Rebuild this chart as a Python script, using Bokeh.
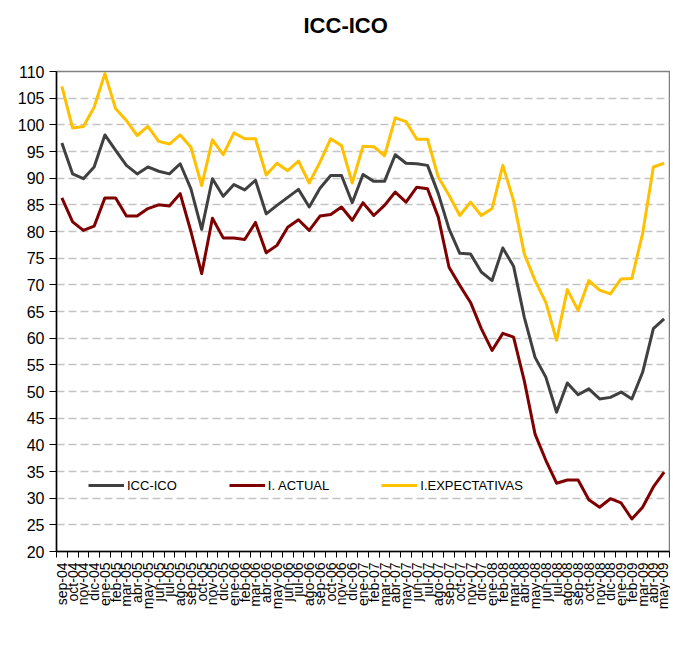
from math import pi
from bokeh.plotting import figure
from bokeh.models import FixedTicker, Range1d, Legend, LegendItem, ColumnDataSource, Title
from bokeh.embed import file_html
from bokeh.resources import INLINE

months = ["sep-04", "oct-04", "nov-04", "dic-04",
          "ene-05", "feb-05", "mar-05", "abr-05", "may-05", "jun-05", "jul-05", "ago-05", "sep-05", "oct-05", "nov-05", "dic-05",
          "ene-06", "feb-06", "mar-06", "abr-06", "may-06", "jun-06", "jul-06", "ago-06", "sep-06", "oct-06", "nov-06", "dic-06",
          "ene-07", "feb-07", "mar-07", "abr-07", "may-07", "jun-07", "jul-07", "ago-07", "sep-07", "oct-07", "nov-07", "dic-07",
          "ene-08", "feb-08", "mar-08", "abr-08", "may-08", "jun-08", "jul-08", "ago-08", "sep-08", "oct-08", "nov-08", "dic-08",
          "ene-09", "feb-09", "mar-09", "abr-09", "may-09"]

icc_ico = [96.6, 90.8, 89.9, 92.1, 98.1, 95.2, 92.4, 90.8, 92.1, 91.3, 90.8, 92.7, 88.0, 80.4, 89.9, 86.6,
           88.8, 87.8, 89.6, 83.3, 84.9, 86.4, 87.9, 84.6, 88.1, 90.5, 90.5, 85.4,
           90.7, 89.4, 89.4, 94.4, 92.8, 92.7, 92.4, 87.1, 80.5, 75.9, 75.8, 72.4,
           70.8, 76.9, 73.5, 63.9, 56.4, 52.7, 46.1, 51.6, 49.4, 50.5, 48.6, 48.9,
           49.9, 48.6, 53.6, 61.8, 63.6]

i_actual = [86.3, 81.8, 80.2, 81.0, 86.3, 86.3, 82.9, 82.9, 84.3, 85.0, 84.8, 87.1, 80.0, 72.1, 82.5, 78.8,
            78.8, 78.5, 81.7, 76.0, 77.4, 80.8, 82.2, 80.2, 82.9, 83.2, 84.6, 82.1,
            85.4, 83.0, 84.9, 87.4, 85.5, 88.3, 88.0, 82.7, 73.3, 69.9, 66.7, 61.8,
            57.7, 60.9, 60.2, 52.0, 42.0, 37.1, 32.8, 33.4, 33.4, 29.7, 28.3, 29.9,
            29.1, 26.1, 28.3, 32.1, 34.9]

i_expectativas = [107.2, 99.4, 99.7, 103.3, 109.6, 103.0, 100.8, 98.0, 99.7, 96.9, 96.4, 98.1, 95.8, 88.6, 97.2, 94.4,
                  98.5, 97.4, 97.4, 90.6, 92.8, 91.4, 93.2, 89.1, 93.0, 97.4, 96.1, 89.1,
                  96.0, 95.9, 94.2, 101.3, 100.6, 97.3, 97.3, 90.2, 86.8, 83.0, 85.5, 83.0,
                  84.3, 92.4, 85.8, 75.8, 70.8, 66.7, 59.6, 69.1, 65.2, 70.8, 69.0, 68.3,
                  71.1, 71.2, 79.6, 92.1, 92.8]

y_ticks = list(range(20, 111, 5))
title_text = "ICC-ICO"

idx = list(range(len(months)))
src = ColumnDataSource(dict(x=idx, icc=icc_ico, act=i_actual, exp=i_expectativas))

FONT = "Liberation Sans"

p = figure(width=670, height=640, output_backend="svg", toolbar_location=None,
           x_range=Range1d(-0.5, len(months) - 0.5), y_range=Range1d(20, 110),
           min_border_left=56, min_border_right=1, min_border_top=71, min_border_bottom=89)

p.title.text = title_text
p.title.text_font = FONT
p.title.text_font_size = "22px"
p.title.text_font_style = "bold"
p.title.align = "left"
p.title.offset = 247
p.title.standoff = 0
p.title.text_color = "black"

# empty spacer between title and plot area
p.add_layout(Title(text=" ", text_font_size="2px", standoff=30), "above")

p.outline_line_color = "#808080"
p.outline_line_width = 1.5

# x axis
xa = p.xaxis[0]
xa.ticker = FixedTicker(ticks=idx, minor_ticks=[i - 0.5 for i in range(len(months) + 1)])
xa.major_label_overrides = {i: m for i, m in enumerate(months)}
xa.major_label_orientation = pi / 2
xa.major_tick_line_color = None
xa.major_tick_out = 7
xa.major_tick_in = 0
xa.minor_tick_out = 6
xa.minor_tick_in = 0
xa.minor_tick_line_color = "black"
xa.axis_line_color = "black"
xa.axis_line_width = 1.5
xa.major_label_text_font = FONT
xa.major_label_text_font_size = "14px"
xa.major_label_text_color = "black"
xa.major_label_standoff = 4

# y axis
ya = p.yaxis[0]
ya.ticker = FixedTicker(ticks=y_ticks)
ya.major_tick_out = 7
ya.major_tick_in = 0
ya.minor_tick_line_color = None
ya.axis_line_color = "black"
ya.axis_line_width = 1.5
ya.major_label_text_font = FONT
ya.major_label_text_font_size = "16px"
ya.major_label_text_color = "black"
ya.major_label_standoff = 5

p.xgrid.grid_line_color = None
p.ygrid.ticker = FixedTicker(ticks=y_ticks[1:-1])
p.ygrid.grid_line_color = "#c4c4c4"
p.ygrid.grid_line_width = 1.6
p.ygrid.grid_line_dash = "8 4"

r1 = p.line("x", "icc", source=src, line_color="#404040", line_width=3, line_join="round")
r2 = p.line("x", "act", source=src, line_color="#7f0000", line_width=3, line_join="round")
r3 = p.line("x", "exp", source=src, line_color="#ffc000", line_width=3, line_join="round")

legend = Legend(items=[LegendItem(label="ICC-ICO", renderers=[r1]),
                       LegendItem(label="I. ACTUAL", renderers=[r2]),
                       LegendItem(label="I.EXPECTATIVAS", renderers=[r3])],
                orientation="horizontal", location=(32, 54),
                glyph_width=36, glyph_height=24, label_height=24, label_standoff=3,
                spacing=52, padding=8, margin=0,
                label_text_font=FONT, label_text_font_size="13px", label_text_color="black",
                background_fill_color="white", background_fill_alpha=1.0,
                border_line_color=None)
p.add_layout(legend, "center")

open("out.html", "w").write(file_html(p, INLINE))
